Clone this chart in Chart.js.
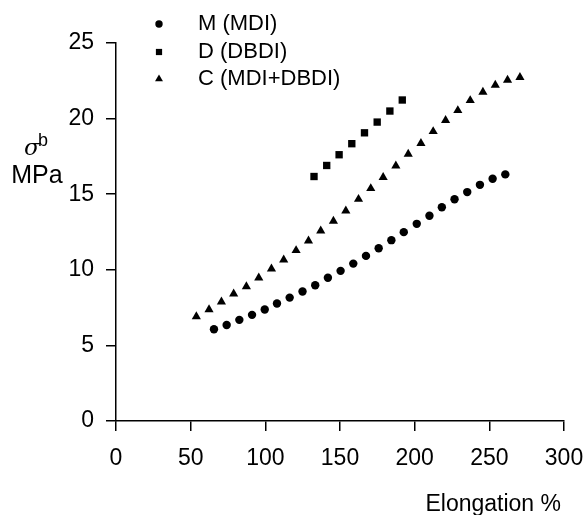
<!DOCTYPE html>
<html lang="en">
<head>
    <meta charset="UTF-8">
    <title>Stress vs Elongation</title>
    <script src="https://cdn.jsdelivr.net/npm/chart.js"></script>
    <style>
        body {
            margin: 0;
            background: #ffffff;
        }
        #chartBox {
            width: 586px;
            height: 515px;
        }
    </style>
</head>
<body>

<div id="chartBox">
    <canvas id="stressChart" width="586" height="515"></canvas>
</div>

<script>
    // values
    const seriesNames = ['M (MDI)', 'D (DBDI)', 'C (MDI+DBDI)'];

    const mElong = [65.6, 74.1, 82.6, 91.1, 99.6, 107.8, 116.3, 124.9, 133.4, 141.9, 150.4, 158.9,
                    167.4, 175.9, 184.4, 192.7, 201.4, 209.9, 218.2, 226.7, 235.2, 243.7, 252.2, 260.7];
    const mStress = [6.07, 6.35, 6.69, 7.02, 7.37, 7.77, 8.16, 8.56, 8.98, 9.47, 9.93, 10.41,
                     10.92, 11.43, 11.96, 12.49, 13.04, 13.57, 14.14, 14.67, 15.14, 15.62, 16.02, 16.31];

    const dElong = [132.6, 141.1, 149.4, 157.9, 166.4, 174.9, 183.4, 191.7];
    const dStress = [16.17, 16.90, 17.61, 18.34, 19.06, 19.77, 20.50, 21.23];

    const cElong = [53.8, 62.3, 70.6, 78.8, 87.3, 95.6, 104.1, 112.3, 120.6, 128.9, 137.1, 145.6, 153.9, 162.4,
                    170.6, 178.9, 187.4, 195.7, 204.2, 212.4, 220.7, 228.9, 237.2, 245.7, 254.0, 262.2, 270.5];
    const cStress = [6.91, 7.37, 7.88, 8.41, 8.89, 9.47, 10.06, 10.66, 11.28, 11.92, 12.58, 13.22, 13.90, 14.67,
                     15.38, 16.11, 16.88, 17.65, 18.36, 19.15, 19.88, 20.54, 21.20, 21.76, 22.22, 22.55, 22.73];

    const xTicks = [0, 50, 100, 150, 200, 250, 300];
    const yTicks = [0, 5, 10, 15, 20, 25];

    const FONT = '"Liberation Sans", Arial, sans-serif';

    function toPoints(xs, ys) {
        return xs.map((x, i) => ({ x: x, y: ys[i] }));
    }

    // legend and axis titles drawn on the canvas
    const extrasPlugin = {
        id: 'extras',
        afterDraw(chart) {
            const ctx = chart.ctx;
            ctx.save();
            ctx.fillStyle = '#000';
            ctx.strokeStyle = '#000';

            // legend
            const rows = [24, 52, 79];
            chart.data.datasets.forEach((ds, i) => {
                Chart.helpers.drawPoint(ctx, {
                    pointStyle: ds.pointStyle,
                    radius: ds.legendRadius,
                    rotation: 0,
                    borderWidth: 0
                }, 159, rows[i]);
                ctx.font = '22px ' + FONT;
                ctx.textAlign = 'left';
                ctx.textBaseline = 'middle';
                ctx.fillText(ds.label, 198, rows[i]);
            });

            // y title: sigma with b, then MPa
            ctx.textBaseline = 'alphabetic';
            ctx.textAlign = 'left';
            ctx.font = 'italic 23px "DejaVu Serif", serif';
            ctx.fillText('σ', 24, 155);
            ctx.font = '18px ' + FONT;
            ctx.fillText('b', 38, 146);
            ctx.font = '25px ' + FONT;
            ctx.textAlign = 'center';
            ctx.fillText('MPa', 37, 183);

            // x title
            ctx.font = '23px ' + FONT;
            ctx.textAlign = 'right';
            ctx.fillText('Elongation %', 561, 511);
            ctx.restore();
        }
    };

    const ctx = document.getElementById('stressChart').getContext('2d');
    const stressChart = new Chart(ctx, {
        type: 'scatter',
        data: {
            datasets: [{
                label: seriesNames[0],
                data: toPoints(mElong, mStress),
                pointStyle: 'circle',
                pointRadius: 4.2,
                legendRadius: 3.7,
                backgroundColor: '#000',
                borderColor: '#000',
                borderWidth: 0
            }, {
                label: seriesNames[1],
                data: toPoints(dElong, dStress),
                pointStyle: 'rect',
                pointRadius: 5.2,
                legendRadius: 4.4,
                backgroundColor: '#000',
                borderColor: '#000',
                borderWidth: 0
            }, {
                label: seriesNames[2],
                data: toPoints(cElong, cStress),
                pointStyle: 'triangle',
                pointRadius: 5.3,
                legendRadius: 4.6,
                backgroundColor: '#000',
                borderColor: '#000',
                borderWidth: 0
            }]
        },
        options: {
            responsive: false,
            animation: false,
            devicePixelRatio: 1,
            layout: {
                padding: { left: 0, top: 43, right: 22, bottom: 0 }
            },
            plugins: {
                legend: { display: false },
                tooltip: { enabled: false }
            },
            scales: {
                x: {
                    type: 'linear',
                    min: 0,
                    max: 300,
                    afterBuildTicks: scale => {
                        scale.ticks = xTicks.map(v => ({ value: v }));
                    },
                    afterFit: scale => {
                        scale.height = 94;
                        scale.paddingLeft = 0;
                        scale.paddingRight = 0;
                    },
                    border: { display: true, color: '#000', width: 1.5 },
                    grid: {
                        display: true,
                        drawOnChartArea: false,
                        drawTicks: true,
                        tickLength: 10,
                        color: '#000',
                        lineWidth: 1.5
                    },
                    ticks: {
                        color: '#000',
                        padding: 14,
                        maxRotation: 0,
                        font: { family: FONT, size: 23 }
                    }
                },
                y: {
                    type: 'linear',
                    min: 0,
                    max: 25,
                    afterBuildTicks: scale => {
                        scale.ticks = yTicks.map(v => ({ value: v }));
                    },
                    afterFit: scale => {
                        scale.width = 116;
                    },
                    border: { display: true, color: '#000', width: 1.5 },
                    grid: {
                        display: true,
                        drawOnChartArea: false,
                        drawTicks: true,
                        tickLength: 10,
                        color: '#000',
                        lineWidth: 1.5
                    },
                    ticks: {
                        color: '#000',
                        padding: 12,
                        font: { family: FONT, size: 23 }
                    }
                }
            }
        },
        plugins: [extrasPlugin]
    });
</script>

</body>
</html>
